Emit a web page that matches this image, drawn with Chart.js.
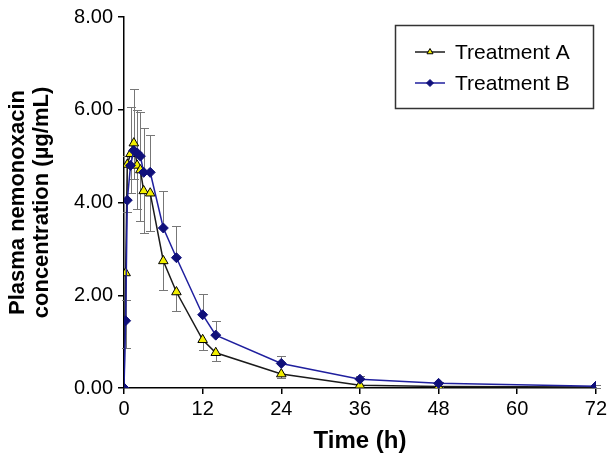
<!DOCTYPE html>
<html>
<head>
<meta charset="utf-8">
<script src="https://cdn.jsdelivr.net/npm/chart.js@4.4.0/dist/chart.umd.min.js"></script>
<style>
html, body { margin: 0; padding: 0; background: #fff; }
#wrap { width: 610px; height: 460px; position: relative; }
</style>
</head>
<body>
<div id="wrap"><canvas id="pkChart"></canvas></div>
<script>
// sampling times (h)
const times = [0, 0.25, 0.5, 1, 1.5, 2, 2.5, 3, 4, 6, 8, 12, 14, 24, 36, 48, 72];
// mean concentrations (ug/mL) and SD
const treatA = [0, 2.48, 4.82, 5.05, 5.28, 4.8, 4.7, 4.25, 4.2, 2.74, 2.07, 1.04, 0.76, 0.3, 0.06, 0.03, 0.02];
const sdA    = [0, 1.61, 1.02, 0.85, 0.78, 0.93, 1.1, 0.91, 0.82, 0.63, 0.40, 0.22, 0.18, 0.08, 0.03, 0.01, 0.01];
const treatB = [0, 1.45, 4.05, 4.8, 5.12, 5.07, 5.0, 4.65, 4.65, 3.45, 2.81, 1.58, 1.14, 0.53, 0.19, 0.1, 0.04];
const sdB    = [0, 0.45, 0.95, 1.25, 1.33, 0.93, 0.95, 0.95, 0.81, 0.79, 0.68, 0.44, 0.31, 0.15, 0.06, 0.03, 0.02];
const seriesNames = ['Treatment A', 'Treatment B'];
const xTicks = [0, 12, 24, 36, 48, 60, 72];
const yTicks = [0, 2, 4, 6, 8];

const FONT = '"Liberation Sans", Arial, sans-serif';

function toPoints(vals) {
    return times.map((t, i) => ({ x: t, y: vals[i] }));
}

// error bars: A drawn downward, B drawn upward
const errorBars = {
    id: 'errorBars',
    beforeDatasetsDraw(chart) {
        const ctx = chart.ctx;
        const x = chart.scales.x, y = chart.scales.y;
        ctx.save();
        ctx.strokeStyle = '#777';
        ctx.lineWidth = 1;
        chart.data.datasets.forEach(ds => {
            ds.data.forEach((p, i) => {
                const sd = ds.sd[i];
                if (!sd) return;
                const px = Math.round(x.getPixelForValue(p.x)) + 0.5;
                const y0 = y.getPixelForValue(p.y);
                const y1 = Math.round(y.getPixelForValue(p.y + ds.errDir * sd)) + 0.5;
                ctx.beginPath();
                ctx.moveTo(px, y0);
                ctx.lineTo(px, y1);
                ctx.moveTo(px - 4.5, y1);
                ctx.lineTo(px + 4.5, y1);
                ctx.stroke();
            });
        });
        ctx.restore();
    }
};

// boxed legend in the top right corner
const boxLegend = {
    id: 'boxLegend',
    afterDraw(chart) {
        const ctx = chart.ctx;
        ctx.save();
        ctx.strokeStyle = '#333';
        ctx.lineWidth = 1.5;
        ctx.strokeRect(395.5, 25.5, 198, 83);
        chart.data.datasets.forEach((ds, i) => {
            const yy = 52 + i * 31;
            ctx.strokeStyle = ds.borderColor;
            ctx.lineWidth = 1.5;
            ctx.beginPath();
            ctx.moveTo(415, yy);
            ctx.lineTo(445, yy);
            ctx.stroke();
            ctx.fillStyle = ds.pointBackgroundColor;
            ctx.strokeStyle = ds.pointBorderColor;
            ctx.lineWidth = 1;
            Chart.helpers.drawPoint(ctx, { pointStyle: ds.pointStyle, radius: 3.5, borderWidth: 1 }, 430, yy);
            ctx.fillStyle = '#000';
            ctx.font = '21px ' + FONT;
            ctx.textBaseline = 'middle';
            ctx.fillText(ds.label, 455, yy + 1);
        });
        ctx.restore();
    }
};

const chart = new Chart(document.getElementById('pkChart'), {
    type: 'line',
    data: {
        datasets: [{
            label: seriesNames[0],
            data: toPoints(treatA),
            sd: sdA,
            errDir: -1,
            borderColor: '#1a1a1a',
            borderWidth: 1.5,
            pointStyle: 'triangle',
            pointRadius: 5.5,
            pointBackgroundColor: '#f2ee00',
            pointBorderColor: '#000',
            pointBorderWidth: 1,
            fill: false,
            order: 2
        }, {
            label: seriesNames[1],
            data: toPoints(treatB),
            sd: sdB,
            errDir: 1,
            borderColor: '#1f1f9e',
            borderWidth: 1.5,
            pointStyle: 'rectRot',
            pointRadius: 5,
            pointBackgroundColor: '#10107a',
            pointBorderColor: '#10107a',
            pointBorderWidth: 1,
            fill: false,
            order: 1
        }]
    },
    options: {
        responsive: true,
        maintainAspectRatio: false,
        animation: false,
        layout: { padding: { top: 10, right: 0, left: 0, bottom: 0 } },
        plugins: {
            legend: { display: false },
            tooltip: { enabled: false }
        },
        scales: {
            x: {
                type: 'linear',
                min: 0,
                max: 72,
                afterBuildTicks(s) { s.ticks = xTicks.map(v => ({ value: v })); },
                afterFit(s) { s.height = 72; },
                ticks: { color: '#000', font: { family: FONT, size: 20 }, padding: 3, maxRotation: 0 },
                grid: { drawOnChartArea: false, color: '#000', tickLength: 6, lineWidth: 1.5 },
                border: { color: '#000', width: 1.5 },
                title: { display: true, text: 'Time (h)', color: '#000', font: { family: FONT, size: 24, weight: 'bold' }, padding: { top: 2 } }
            },
            y: {
                min: 0,
                max: 8,
                afterBuildTicks(s) { s.ticks = yTicks.map(v => ({ value: v })); },
                afterFit(s) { s.width = 124; },
                ticks: { color: '#000', font: { family: FONT, size: 20 }, padding: 5, callback: v => v.toFixed(2) },
                grid: { drawOnChartArea: false, color: '#000', tickLength: 6, lineWidth: 1.5 },
                border: { color: '#000', width: 1.5 },
                title: {
                    display: true,
                    text: ['Plasma nemonoxacin', 'concentration (\u00b5g/mL)'],
                    color: '#000',
                    font: { family: FONT, size: 22, weight: 'bold', lineHeight: 1.1 },
                    padding: { top: 6, bottom: 0 }
                }
            }
        }
    },
    plugins: [errorBars, boxLegend]
});
</script>
</body>
</html>
